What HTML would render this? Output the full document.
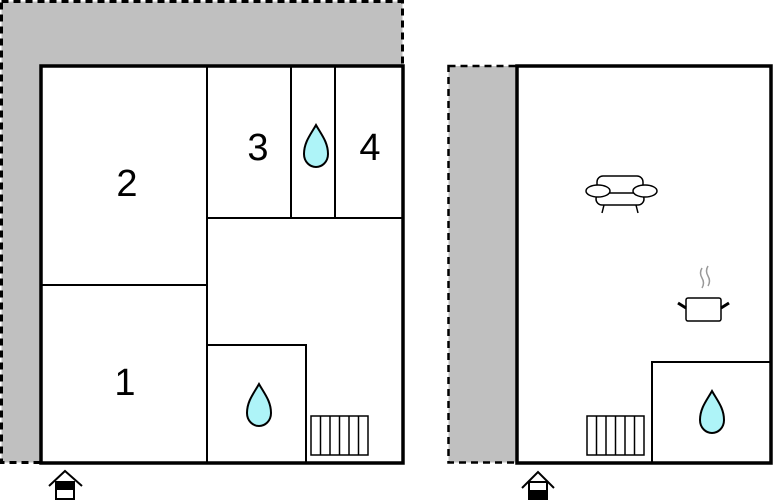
<!DOCTYPE html>
<html><head><style>body{margin:0;background:#fff}svg{display:block}</style></head><body>
<svg width="773" height="500" viewBox="0 0 773 500" xmlns="http://www.w3.org/2000/svg" font-family="Liberation Sans, sans-serif">
<defs>
<g id="drop"><path d="M0,-21 C5,-12 12,-4 12,8 C12,16 6,21 0,21 C-6,21 -12,16 -12,8 C-12,-4 -5,-12 0,-21Z" fill="#aef4f8" stroke="#000" stroke-width="2"/></g>
<g id="rad" fill="none" stroke="#000" stroke-width="1.5"><rect x="0" y="0" width="57" height="39"/><line x1="9.5" y1="0" x2="9.5" y2="39"/><line x1="19" y1="0" x2="19" y2="39"/><line x1="28.5" y1="0" x2="28.5" y2="39"/><line x1="38" y1="0" x2="38" y2="39"/><line x1="47.5" y1="0" x2="47.5" y2="39"/></g>
</defs>
<!-- left plan -->
<rect x="1.5" y="1.5" width="401" height="461" fill="#c0c0c0" stroke="#000" stroke-width="3" stroke-dasharray="7,5"/>
<rect x="41" y="66" width="362" height="397" fill="#fff" stroke="#000" stroke-width="3.5"/>
<g stroke="#000" stroke-width="2" fill="none">
<line x1="207" y1="66" x2="207" y2="463"/>
<line x1="41" y1="285" x2="207" y2="285"/>
<line x1="207" y1="218" x2="403" y2="218"/>
<line x1="291" y1="66" x2="291" y2="218"/>
<line x1="335" y1="66" x2="335" y2="218"/>
<rect x="207" y="345" width="99" height="118"/>
</g>
<use href="#rad" x="311" y="416"/>
<use href="#drop" x="316" y="146"/>
<use href="#drop" x="259" y="405"/>
<g font-size="38" text-anchor="middle">
<text x="127" y="196">2</text><text x="258" y="160">3</text><text x="370" y="160">4</text><text x="125" y="395">1</text>
</g>
<g stroke="#000" stroke-width="2" fill="none"><polyline points="49,486 65,471 82,486"/><rect x="56" y="482" width="18" height="17" fill="#fff"/></g>
<rect x="56" y="482" width="18" height="8" fill="#000"/>
<!-- right plan -->
<rect x="448.5" y="66" width="68.5" height="396.5" fill="#c0c0c0" stroke="#000" stroke-width="2.5" stroke-dasharray="7,5"/>
<rect x="517" y="66" width="254" height="397" fill="#fff" stroke="#000" stroke-width="3.5"/>
<rect x="652" y="362" width="119" height="101" fill="none" stroke="#000" stroke-width="2"/>
<use href="#rad" x="587" y="416"/>
<use href="#drop" x="712" y="412"/>
<!-- sofa -->
<g stroke="#000" stroke-width="1.5" fill="#fff">
<rect x="597" y="176" width="46" height="20" rx="6"/>
<rect x="596" y="193" width="48" height="12" rx="6"/>
<ellipse cx="598" cy="191" rx="12" ry="6"/>
<ellipse cx="645" cy="191" rx="12" ry="6"/>
<line x1="604" y1="205" x2="602" y2="213"/><line x1="636" y1="205" x2="638" y2="213"/>
</g>
<!-- pot -->
<g stroke="#000" stroke-width="1.5" fill="#fff">
<rect x="686" y="298" width="35" height="23" rx="2"/>
</g>
<g stroke="#000" stroke-width="3"><line x1="678" y1="303" x2="686" y2="308"/><line x1="729" y1="303" x2="721" y2="308"/></g>
<g stroke="#999" stroke-width="1.5" fill="none"><path d="M702,268 q-3,5 0,10 q3,5 0,10"/><path d="M708,266 q-3,5 0,10 q3,5 0,10"/></g>
<g stroke="#000" stroke-width="2" fill="none"><polyline points="522,488 538,472 554,488"/><rect x="529" y="482" width="18" height="17" fill="#fff"/></g>
<rect x="529" y="490" width="18" height="10" fill="#000"/>
</svg>
</body></html>
